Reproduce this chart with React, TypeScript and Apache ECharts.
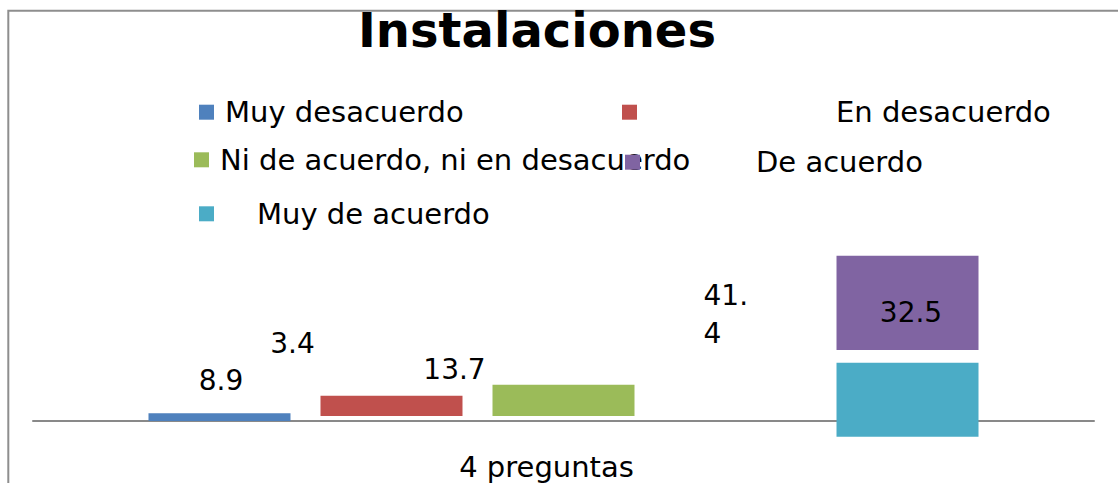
import React, { useEffect, useRef } from 'react';
import * as echarts from 'echarts';

const categories = ['4 preguntas'];
const seriesNames = [
  'Muy desacuerdo',
  'En desacuerdo',
  'Ni de acuerdo, ni en desacuerdo',
  'De acuerdo',
  'Muy de acuerdo',
];
const seriesValues = [3.4, 8.9, 13.7, 41.4, 32.5];
// lower ends of the floating bars (axis units)
const barLowerBounds = [0, 2.2, 2.2, 31.1, -6.9];
const colors = ['#4f81bd', '#c0504d', '#9bbb59', '#8064a2', '#4bacc6'];
const titleText = 'Instalaciones';

const FONT = 'DejaVu Sans';

// slot (stack) of each series; slot s3 is left empty
const slotOf = ['s0', 's1', 's2', 's4', 's4'];

const labelStyle = [
  { offset: [73, -74] },
  { offset: [-170.5, -25] },
  { offset: [-109, -31] },
  { offset: [-204, 12], align: 'left', width: 48, overflow: 'breakAll', lineHeight: 38 },
  { offset: [3.5, -87] },
];

const legendPlace = [
  { left: 199, top: 97.7, padding: [0, 0, 3.6, 6] },
  { left: 622, top: 97.7, padding: [0, 0, 9.6, 194] },
  { left: 194, top: 145.3, padding: [3.4, 0, 0, 6] },
  { left: 625, top: 147.7, padding: [0, 0, 0.6, 111] },
  { left: 199, top: 199.3, padding: [0, 0, 16.4, 38] },
];

const BAR_W = 142;
const BAR_GAP = '21.13%';

export default function App() {
  const ref = useRef<HTMLDivElement>(null);
  useEffect(() => {
    document.body.style.margin = '0';
    const chart = echarts.init(ref.current!, null, { renderer: 'svg' });

    const base = (stack: string) => ({
      type: 'bar',
      stack,
      stackStrategy: 'all',
      barWidth: BAR_W,
      barGap: BAR_GAP,
      silent: true,
    });
    const floorSeries = (i: number, val: number) => ({
      ...base(slotOf[i]),
      name: '__floor' + i,
      data: [val],
      itemStyle: { color: 'transparent' },
      label: { show: false },
    });
    const valueSeries = (i: number) => ({
      ...base(slotOf[i]),
      name: seriesNames[i],
      data: [seriesValues[i]],
      itemStyle: { color: colors[i] },
      label: {
        show: true,
        position: 'inside',
        fontFamily: FONT,
        fontSize: 28,
        color: '#000',
        ...labelStyle[i],
      },
    });

    const series: any[] = [];
    [0, 1, 2].forEach((i) => {
      series.push(floorSeries(i, barLowerBounds[i]));
      series.push(valueSeries(i));
    });
    series.push({ ...base('s3'), name: '__empty', data: ['-'] });
    // stacked slot: lower bar (Muy de acuerdo), gap, upper bar (De acuerdo)
    series.push(floorSeries(4, barLowerBounds[4]));
    series.push(valueSeries(4));
    series.push(
      floorSeries(3, barLowerBounds[3] - (barLowerBounds[4] + seriesValues[4]))
    );
    series.push(valueSeries(3));

    const legends = seriesNames.map((name, i) => ({
      data: [name],
      left: legendPlace[i].left,
      top: legendPlace[i].top,
      padding: 0,
      itemGap: 0,
      itemWidth: 15,
      itemHeight: 15,
      selectedMode: false,
      icon: 'rect',
      textStyle: {
        fontFamily: FONT,
        fontSize: 29,
        color: '#000',
        padding: legendPlace[i].padding,
      },
    }));

    chart.setOption({
      animation: false,
      backgroundColor: '#fff',
      color: colors,
      title: {
        text: titleText,
        left: 358,
        top: 5.5,
        padding: 0,
        textStyle: { fontFamily: FONT, fontSize: 48, fontWeight: 'bold', color: '#000' },
      },
      legend: legends,
      grid: {
        left: 33,
        right: 24,
        top: 238.6,
        bottom: 16.4,
        containLabel: false,
        outerBoundsMode: 'none',
      },
      xAxis: {
        type: 'category',
        data: categories,
        axisLine: { show: true, onZero: true, lineStyle: { color: '#898989', width: 2 } },
        axisTick: { show: false },
        axisLabel: {
          fontFamily: FONT,
          fontSize: 29,
          color: '#000',
          margin: -14,
          padding: [0, 34, 0, 0],
        },
      },
      yAxis: {
        type: 'value',
        min: -20,
        max: 80,
        show: false,
        splitLine: { show: false },
      },
      graphic: [
        {
          type: 'rect',
          shape: { x: 8.3, y: 10.7, width: 1300, height: 700 },
          style: { fill: 'none', stroke: '#8e8e8e', lineWidth: 2 },
          silent: true,
        },
      ],
      series,
    });
    return () => chart.dispose();
  }, []);
  return (
    <div
      ref={ref}
      style={{ position: 'absolute', left: 0, top: 0, width: 1118, height: 483 }}
    />
  );
}
